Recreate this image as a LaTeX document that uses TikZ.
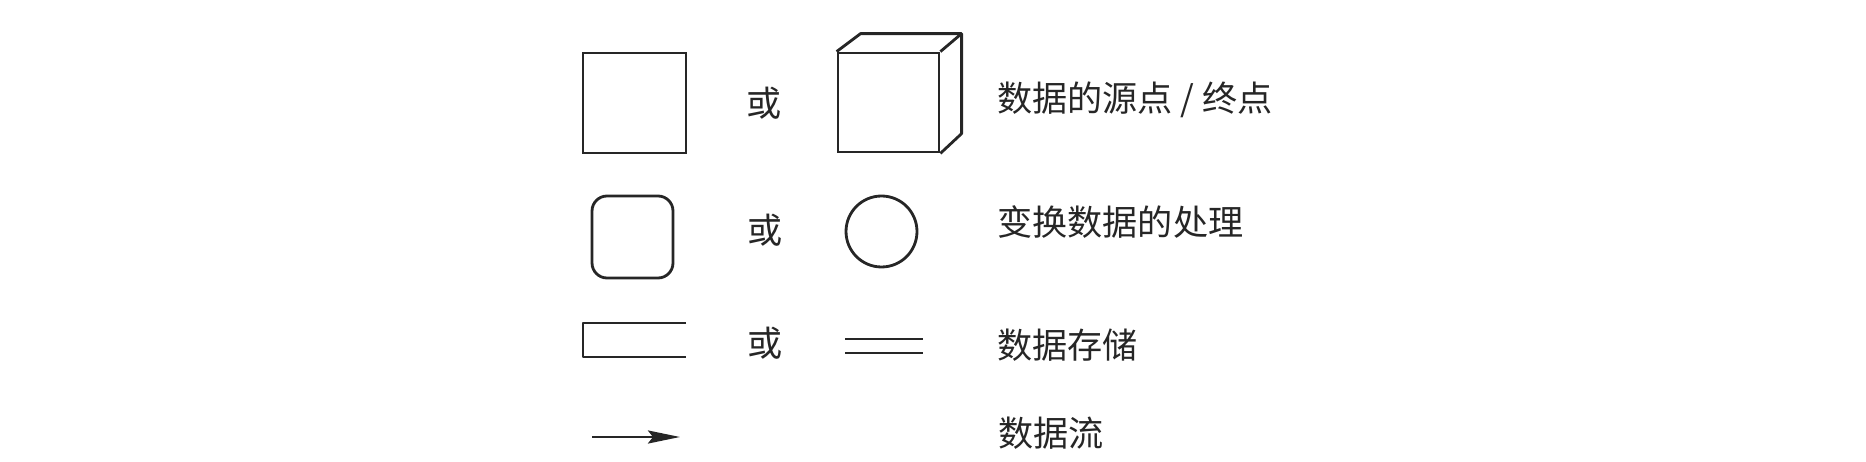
\documentclass[tikz,border=0pt]{standalone}
\usepackage{fontspec}
\newfontfamily\cjk{Noto Sans CJK SC}
\usetikzlibrary{arrows.meta}
\tikzset{
  symnode/.style = {draw=black!85, line width=1.6pt, inner sep=0pt},
  % box_S: plain square, box_F: front face of the cube
  box_S/.style = {symnode, rectangle, minimum width=2.06cm, minimum height=2cm},
  box_F/.style = {symnode, rectangle, minimum width=2.02cm, minimum height=1.98cm},
  box_R/.style = {symnode, rectangle, rounded corners=0.3cm, minimum width=1.62cm, minimum height=1.64cm},
  box_C/.style = {symnode, circle, minimum size=1.42cm},
  symline/.style = {draw=black!85, line width=1.6pt, line join=round},
  word_or/.style = {inner sep=0pt, text=black!85, font=\cjk\fontsize{20}{20}\selectfont},
  label_T/.style = {inner sep=0pt, anchor=west, text=black!85, font=\cjk\fontsize{20}{20}\selectfont}
}

\begin{document}
\begin{tikzpicture}[x=0.02cm, y=-0.02cm]
    \useasboundingbox (0,0) rectangle (1866,462);
    % Row 1 - source / sink:
    \node [box_S] (src) at (634.5,103) {};
    \node [word_or] (or1) at (764,103) {或};
    \node [box_F] (cube) at (888.5,102.5) {};
    \draw [symline] (cube.north west) -- ++(24,-18) coordinate (cubeA)
                    -- ++(101,0) coordinate (cubeB)
                    -- ++(0,100) coordinate (cubeC) -- (cube.south east);
    \draw [symline] (cube.north east) -- (cubeB);
    \node [label_T] (txt1) at (997,100) {数据的源点 / 终点};
    % Row 2 - process:
    \node [box_R] (proc) at (632.5,237) {};
    \node [word_or] (or2) at (765,230) {或};
    \node [box_C] (circ) at (881.5,231.5) {};
    \node [label_T] (txt2) at (997,222) {变换数据的处理};
    % Row 3 - data store:
    \coordinate (st1) at (686,323);
    \coordinate (st2) at (583,323);
    \coordinate (st3) at (583,357);
    \coordinate (st4) at (686,357);
    \draw [symline] (st1) -- (st2) -- (st3) -- (st4);
    \node [word_or] (or3) at (765,343) {或};
    \coordinate (dl1) at (845,339);
    \coordinate (dl2) at (923,339);
    \coordinate (dl3) at (845,353);
    \coordinate (dl4) at (923,353);
    \draw [symline] (dl1) -- (dl2);
    \draw [symline] (dl3) -- (dl4);
    \node [label_T] (txt3) at (997,345) {数据存储};
    % Row 4 - data flow:
    \coordinate (fl1) at (592,437);
    \coordinate (fl2) at (680,437);
    \draw [symline, -{Stealth[length=0.64cm, width=0.26cm, inset=0.1cm]}] (fl1) -- (fl2);
    \node [label_T] (txt4) at (998,433) {数据流};
\end{tikzpicture}
\end{document}
